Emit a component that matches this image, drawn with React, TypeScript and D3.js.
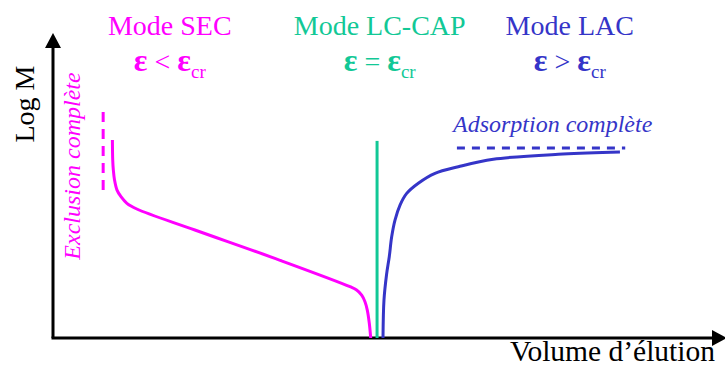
import React from "react";
import * as d3 from "d3";

// Data (x: elution volume units 0-100, y: log M units 0-100)
const secX = [9.0, 9.05, 9.14, 9.32, 9.7, 10.3, 11.2, 12.7, 21.5, 34.4, 45.0, 46.0, 46.77, 47.27, 47.62, 47.92, 48.14];
const secY = [66, 59.3, 56, 52.7, 49.3, 47.1, 44.9, 43, 36, 25.9, 17.1, 16, 14.3, 12.1, 9.3, 5, 0];
const lacX = [50.0, 50.15, 50.53, 50.95, 51.32, 51.82, 52.58, 53.59, 55.35, 57.88, 61.41, 66.71, 77.27, 85.9];
const lacY = [0, 12.7, 21, 27.1, 33.8, 39.3, 44.3, 48.2, 51.6, 54.9, 57.1, 59.6, 61.3, 62];
const capX = [49.1, 49.1];
const capY = [0, 65.7];
const exclX = [7.6, 7.6];
const exclY = [49.3, 77.7];
const adsX = [61.2, 86.7];
const adsY = [63.3, 63.3];

const modeLabels = ["Mode SEC", "Mode LC-CAP", "Mode LAC"];
const modeOps = ["<", "=", ">"];
const modeCenters = [17.7, 49.5, 78.3];
const modeColors = ["#FF00FF", "#12C896", "#3535C8"];

const W = 725;
const H = 371;
const x = d3.scaleLinear().domain([0, 100]).range([53, 713]);
const y = d3.scaleLinear().domain([0, 100]).range([338, 38]);

const zip = (xs: number[], ys: number[]) => xs.map((v, i) => [v, ys[i]] as [number, number]);
const curve = d3
  .line<[number, number]>()
  .x((d) => x(d[0]))
  .y((d) => y(d[1]))
  .curve(d3.curveCatmullRom.alpha(0.5));
const straight = d3
  .line<[number, number]>()
  .x((d) => x(d[0]))
  .y((d) => y(d[1]));

const FONT = "'Liberation Serif', 'Times New Roman', serif";

export default function App() {
  const x0 = x(0);
  const y0 = y(0);
  return (
    <svg
      width={W}
      height={H}
      style={{ position: "absolute", left: 0, top: 0, background: "#fff" }}
      fontFamily={FONT}
    >
      {/* axes */}
      <line x1={x0} y1={y0} x2={x0} y2={46} stroke="#000" strokeWidth={3} />
      <polygon points={`${x0},33 ${x0 - 8},48 ${x0 + 8},48`} fill="#000" />
      <line x1={x0 - 1.5} y1={y0} x2={716} y2={y0} stroke="#000" strokeWidth={3} />
      <polygon points={`727,${y0} 712,${y0 - 8} 712,${y0 + 8}`} fill="#000" />

      {/* axis titles */}
      <text
        transform={`translate(34,104) rotate(-90)`}
        textAnchor="middle"
        fontSize={28}
        fill="#000"
      >
        Log M
      </text>
      <text x={715} y={361} textAnchor="end" fontSize={29.5} fill="#000">
        Volume d’élution
      </text>

      {/* mode headers */}
      {modeLabels.map((m, i) => (
        <text
          key={m}
          x={x(modeCenters[i])}
          y={35}
          textAnchor="middle"
          fontSize={28}
          fill={modeColors[i]}
        >
          {m}
        </text>
      ))}
      {modeOps.map((op, i) => (
        <text
          key={op}
          x={x(modeCenters[i])}
          y={71}
          textAnchor="middle"
          fontSize={28}
          fill={modeColors[i]}
        >
          <tspan fontWeight="bold" fontSize={32}>ε</tspan>
          <tspan> {op} </tspan>
          <tspan fontWeight="bold" fontSize={32}>ε</tspan>
          <tspan fontSize={19} dy={7}>
            cr
          </tspan>
        </text>
      ))}

      {/* annotations */}
      <text
        transform={`translate(80,166) rotate(-90)`}
        textAnchor="middle"
        fontSize={24}
        fontStyle="italic"
        fill="#FF00FF"
      >
        Exclusion complète
      </text>
      <text x={453} y={132} fontSize={24} fontStyle="italic" fill="#3535C8">
        Adsorption complète
      </text>

      {/* dashed limits */}
      <path
        d={straight(zip(exclX, exclY)) || ""}
        stroke="#FF00FF"
        strokeWidth={3}
        strokeDasharray="10 7"
        fill="none"
      />
      <path
        d={straight(zip(adsX, adsY)) || ""}
        stroke="#3535C8"
        strokeWidth={3}
        strokeDasharray="8 7"
        fill="none"
      />

      {/* curves */}
      <path d={curve(zip(secX, secY)) || ""} stroke="#FF00FF" strokeWidth={3} fill="none" />
      <path d={straight(zip(capX, capY)) || ""} stroke="#12C896" strokeWidth={3} fill="none" />
      <path d={curve(zip(lacX, lacY)) || ""} stroke="#3535C8" strokeWidth={3} fill="none" />
    </svg>
  );
}
